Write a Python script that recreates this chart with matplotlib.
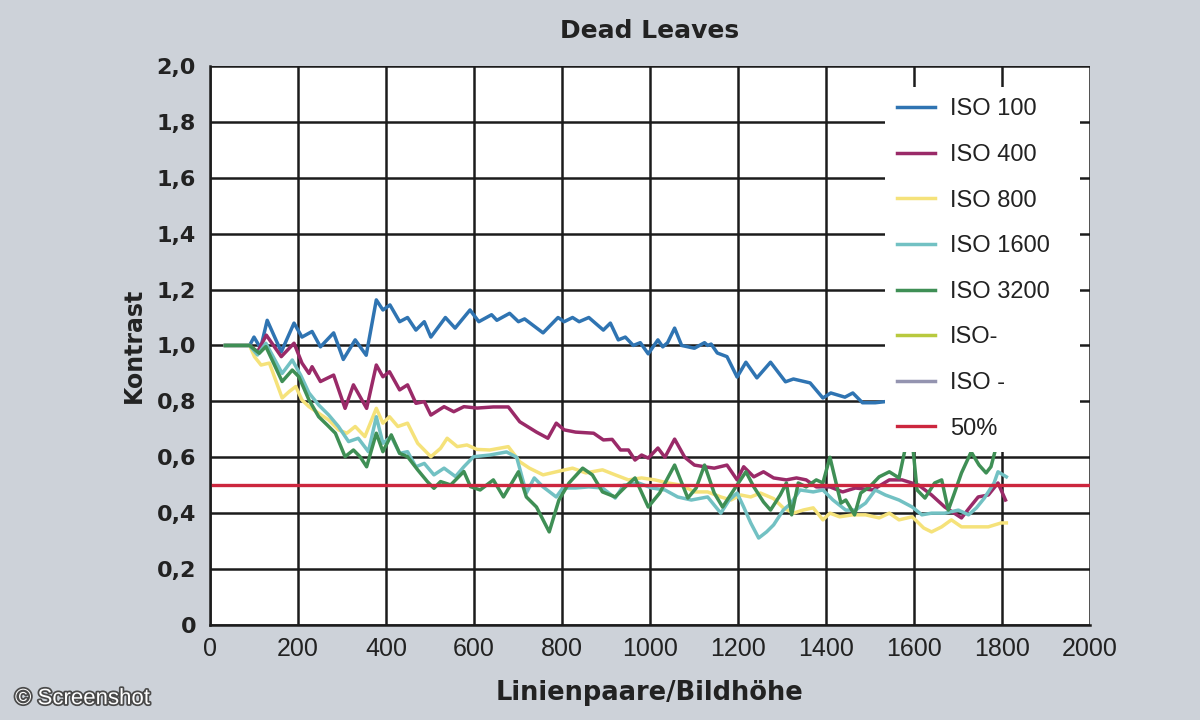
import matplotlib
matplotlib.use("Agg")
import matplotlib.pyplot as plt
import matplotlib.patheffects as pe

# values (x = Linienpaare/Bildhöhe, y = Kontrast)
iso100_x = [35, 90, 100, 115, 130, 162, 191, 209, 232, 251, 281, 303, 330, 355, 378, 393, 409, 431, 449, 468,
            487, 502, 535, 557, 591, 611, 640, 652, 681, 701, 715, 757, 791, 805, 824, 839, 861, 894, 910, 928,
            944, 962, 978, 996, 1018, 1029, 1040, 1056, 1072, 1101, 1124, 1131, 1139, 1153, 1175, 1198, 1218,
            1243, 1274, 1308, 1326, 1364, 1393, 1411, 1443, 1461, 1483, 1512, 1540]
iso100_y = [1.0, 1.0, 1.03, 0.99, 1.09, 0.977, 1.08, 1.03, 1.05, 0.995, 1.045, 0.95, 1.02, 0.965, 1.163, 1.127,
            1.145, 1.085, 1.10, 1.055, 1.085, 1.03, 1.10, 1.062, 1.127, 1.085, 1.11, 1.09, 1.115, 1.085, 1.095,
            1.045, 1.10, 1.085, 1.10, 1.085, 1.10, 1.055, 1.08, 1.02, 1.03, 1.0, 1.01, 0.97, 1.02, 0.995, 1.01,
            1.062, 1.0, 0.99, 1.01, 1.0, 1.005, 0.973, 0.96, 0.887, 0.94, 0.884, 0.94, 0.87, 0.88, 0.866, 0.812,
            0.83, 0.815, 0.83, 0.795, 0.795, 0.80]

iso400_x = [35, 90, 108, 128, 162, 191, 209, 225, 232, 251, 281, 307, 326, 356, 378, 393, 408, 431, 449, 468,
            487, 502, 532, 554, 577, 607, 644, 678, 704, 742, 768, 787, 805, 831, 872, 894, 914, 933, 951, 966,
            981, 996, 1018, 1034, 1056, 1079, 1101, 1124, 1146, 1175, 1198, 1213, 1236, 1258, 1281, 1310, 1333,
            1355, 1378, 1409, 1438, 1467, 1506, 1544, 1573, 1611, 1640, 1670, 1708, 1726, 1746, 1769, 1791, 1808]
iso400_y = [1.0, 1.0, 0.977, 1.037, 0.96, 1.008, 0.937, 0.90, 0.924, 0.871, 0.894, 0.775, 0.859, 0.775, 0.93,
            0.888, 0.906, 0.841, 0.859, 0.793, 0.799, 0.751, 0.781, 0.763, 0.781, 0.776, 0.78, 0.78, 0.727, 0.69,
            0.668, 0.722, 0.698, 0.69, 0.686, 0.662, 0.664, 0.626, 0.626, 0.59, 0.608, 0.597, 0.633, 0.60, 0.665,
            0.60, 0.572, 0.566, 0.561, 0.572, 0.519, 0.566, 0.53, 0.548, 0.526, 0.519, 0.526, 0.519, 0.494, 0.494,
            0.476, 0.49, 0.483, 0.519, 0.519, 0.50, 0.465, 0.422, 0.383, 0.419, 0.458, 0.465, 0.508, 0.447]

iso800_x = [35, 90, 101, 116, 135, 164, 180, 195, 209, 225, 270, 292, 311, 330, 352, 378, 393, 408, 427, 449,
            472, 502, 524, 539, 562, 584, 607, 636, 678, 704, 726, 757, 787, 824, 854, 892, 921, 951, 981, 1011,
            1041, 1072, 1101, 1131, 1161, 1184, 1206, 1229, 1251, 1281, 1303, 1326, 1348, 1371, 1393, 1409, 1431,
            1461, 1490, 1521, 1544, 1566, 1596, 1622, 1640, 1663, 1685, 1708, 1737, 1769, 1798, 1810]
iso800_y = [1.0, 1.0, 0.96, 0.93, 0.937, 0.812, 0.835, 0.853, 0.805, 0.781, 0.733, 0.698, 0.686, 0.71, 0.674,
            0.775, 0.722, 0.745, 0.71, 0.722, 0.65, 0.602, 0.632, 0.668, 0.638, 0.644, 0.628, 0.626, 0.638, 0.584,
            0.561, 0.537, 0.548, 0.561, 0.544, 0.555, 0.537, 0.519, 0.526, 0.519, 0.508, 0.50, 0.476, 0.476, 0.458,
            0.447, 0.465, 0.458, 0.472, 0.452, 0.419, 0.40, 0.411, 0.419, 0.376, 0.40, 0.387, 0.394, 0.394, 0.383,
            0.40, 0.376, 0.387, 0.347, 0.333, 0.351, 0.376, 0.351, 0.351, 0.351, 0.365, 0.365]

iso1600_x = [35, 90, 108, 127, 164, 187, 206, 225, 247, 270, 292, 315, 337, 360, 378, 393, 412, 431, 449, 468,
             487, 509, 532, 558, 577, 599, 636, 674, 697, 719, 737, 757, 787, 802, 831, 861, 892, 921, 940, 974,
             1004, 1034, 1063, 1094, 1131, 1161, 1180, 1198, 1213, 1229, 1247, 1265, 1281, 1303, 1321, 1341, 1371,
             1393, 1416, 1445, 1467, 1490, 1512, 1535, 1566, 1596, 1618, 1640, 1670, 1701, 1724, 1742, 1760, 1782,
             1791, 1810]
iso1600_y = [1.0, 1.0, 0.966, 1.008, 0.90, 0.948, 0.894, 0.83, 0.787, 0.751, 0.71, 0.656, 0.668, 0.62, 0.745,
             0.65, 0.674, 0.614, 0.62, 0.566, 0.578, 0.537, 0.561, 0.531, 0.566, 0.602, 0.608, 0.619, 0.60, 0.472,
             0.526, 0.494, 0.458, 0.49, 0.49, 0.494, 0.49, 0.454, 0.50, 0.508, 0.49, 0.483, 0.458, 0.447, 0.458,
             0.40, 0.447, 0.472, 0.422, 0.365, 0.311, 0.333, 0.358, 0.411, 0.436, 0.483, 0.476, 0.483, 0.447, 0.411,
             0.411, 0.436, 0.483, 0.465, 0.447, 0.422, 0.394, 0.40, 0.40, 0.411, 0.394, 0.419, 0.454, 0.508, 0.548,
             0.53]

iso3200_x = [35, 90, 112, 127, 164, 187, 202, 225, 247, 266, 285, 307, 326, 341, 356, 378, 393, 412, 431, 449,
             472, 494, 509, 524, 547, 577, 592, 614, 644, 667, 701, 719, 742, 771, 793, 816, 847, 869, 892, 921,
             944, 966, 996, 1022, 1056, 1086, 1105, 1124, 1146, 1165, 1198, 1218, 1236, 1258, 1274, 1296, 1310,
             1322, 1337, 1355, 1378, 1393, 1409, 1423, 1434, 1445, 1465, 1479, 1499, 1521, 1544, 1566, 1584, 1596,
             1607, 1625, 1647, 1663, 1678, 1692, 1708, 1730, 1748, 1764, 1775, 1787, 1800]
iso3200_y = [1.0, 1.0, 0.972, 0.996, 0.871, 0.912, 0.888, 0.805, 0.745, 0.716, 0.686, 0.602, 0.626, 0.602, 0.566,
             0.686, 0.62, 0.68, 0.614, 0.602, 0.555, 0.513, 0.489, 0.513, 0.501, 0.549, 0.495, 0.483, 0.519, 0.458,
             0.548, 0.458, 0.422, 0.333, 0.447, 0.508, 0.561, 0.537, 0.476, 0.458, 0.494, 0.526, 0.422, 0.472,
             0.572, 0.454, 0.49, 0.572, 0.472, 0.422, 0.501, 0.548, 0.494, 0.44, 0.411, 0.465, 0.508, 0.394, 0.508,
             0.494, 0.519, 0.508, 0.60, 0.508, 0.436, 0.447, 0.394, 0.472, 0.494, 0.53, 0.548, 0.526, 0.66, 0.66,
             0.483, 0.454, 0.508, 0.519, 0.411, 0.472, 0.544, 0.619, 0.572, 0.544, 0.566, 0.638, 0.70]

threshold = 0.5

xticks = [0, 200, 400, 600, 800, 1000, 1200, 1400, 1600, 1800, 2000]
yticks = [0, 0.2, 0.4, 0.6, 0.8, 1.0, 1.2, 1.4, 1.6, 1.8, 2.0]
ytick_labels = ["0", "0,2", "0,4", "0,6", "0,8", "1,0", "1,2", "1,4", "1,6", "1,8", "2,0"]

plain = ["Liberation Sans", "DejaVu Sans"]

fig = plt.figure(figsize=(12, 7.2), dpi=100, facecolor="#cdd2d9")
ax = fig.add_axes([0.175, 0.132, 0.7333, 0.7764])
ax.set_facecolor("white")

lw = 2.5
ax.plot(iso100_x, iso100_y, color="#2f74b2", lw=lw, label="ISO 100", solid_joinstyle="round")
ax.plot(iso400_x, iso400_y, color="#9a2a68", lw=lw, label="ISO 400", solid_joinstyle="round")
ax.plot(iso800_x, iso800_y, color="#f5e27a", lw=lw, label="ISO 800", solid_joinstyle="round")
ax.plot(iso1600_x, iso1600_y, color="#72c1c3", lw=lw, label="ISO 1600", solid_joinstyle="round")
ax.plot(iso3200_x, iso3200_y, color="#3f8f55", lw=lw, label="ISO 3200", solid_joinstyle="round")
ax.plot([], [], color="#b8c93e", lw=lw, label="ISO-")
ax.plot([], [], color="#9494b0", lw=lw, label="ISO -")
ax.axhline(threshold, color="#cc263e", lw=2.4, label="50%")

ax.set_xlim(0, 2000)
ax.set_ylim(0, 2.0)
ax.set_xticks(xticks)
ax.set_yticks(yticks)
ax.set_yticklabels(ytick_labels)
ax.grid(True, color="#1c1c1c", lw=1.8)
ax.set_axisbelow(True)
for side in ["top", "right"]:
    ax.spines[side].set_visible(False)
for side in ["left", "bottom"]:
    ax.spines[side].set_color("#1c1c1c")
    ax.spines[side].set_linewidth(1.8)

ax.tick_params(length=0)
ax.tick_params(axis="x", pad=9)
ax.tick_params(axis="y", pad=10)
for t in ax.get_xticklabels():
    t.set_family(plain)
    t.set_fontsize(18)
    t.set_color("#222222")
for t in ax.get_yticklabels():
    t.set_family("DejaVu Sans")
    t.set_fontweight("bold")
    t.set_fontsize(16)
    t.set_color("#222222")

ax.set_title("Dead Leaves", fontsize=18, fontweight="bold", color="#222222", pad=20)
ax.set_xlabel("Linienpaare/Bildhöhe", fontsize=18.5, fontweight="bold", color="#222222", labelpad=13)
ax.set_ylabel("Kontrast", fontsize=17, fontweight="bold", color="#222222", labelpad=8)

leg = ax.legend(loc="upper left", bbox_to_anchor=(0.767, 0.963, 0.222, 0.0), mode="expand",
                prop={"family": plain, "size": 17}, frameon=True, facecolor="white", edgecolor="none",
                framealpha=1.0, fancybox=False, borderaxespad=0, borderpad=0.5, labelspacing=1.0,
                handlelength=1.6, handletextpad=0.65)
leg.set_zorder(10)
for t in leg.get_texts():
    t.set_color("#222222")

fig.text(0.0125, 0.022, "© Screenshot", fontsize=16, color="white", family="Liberation Sans",
         path_effects=[pe.withStroke(linewidth=2.5, foreground="#4a4a4a")])

fig.savefig("out.png", dpi=100, facecolor=fig.get_facecolor())
